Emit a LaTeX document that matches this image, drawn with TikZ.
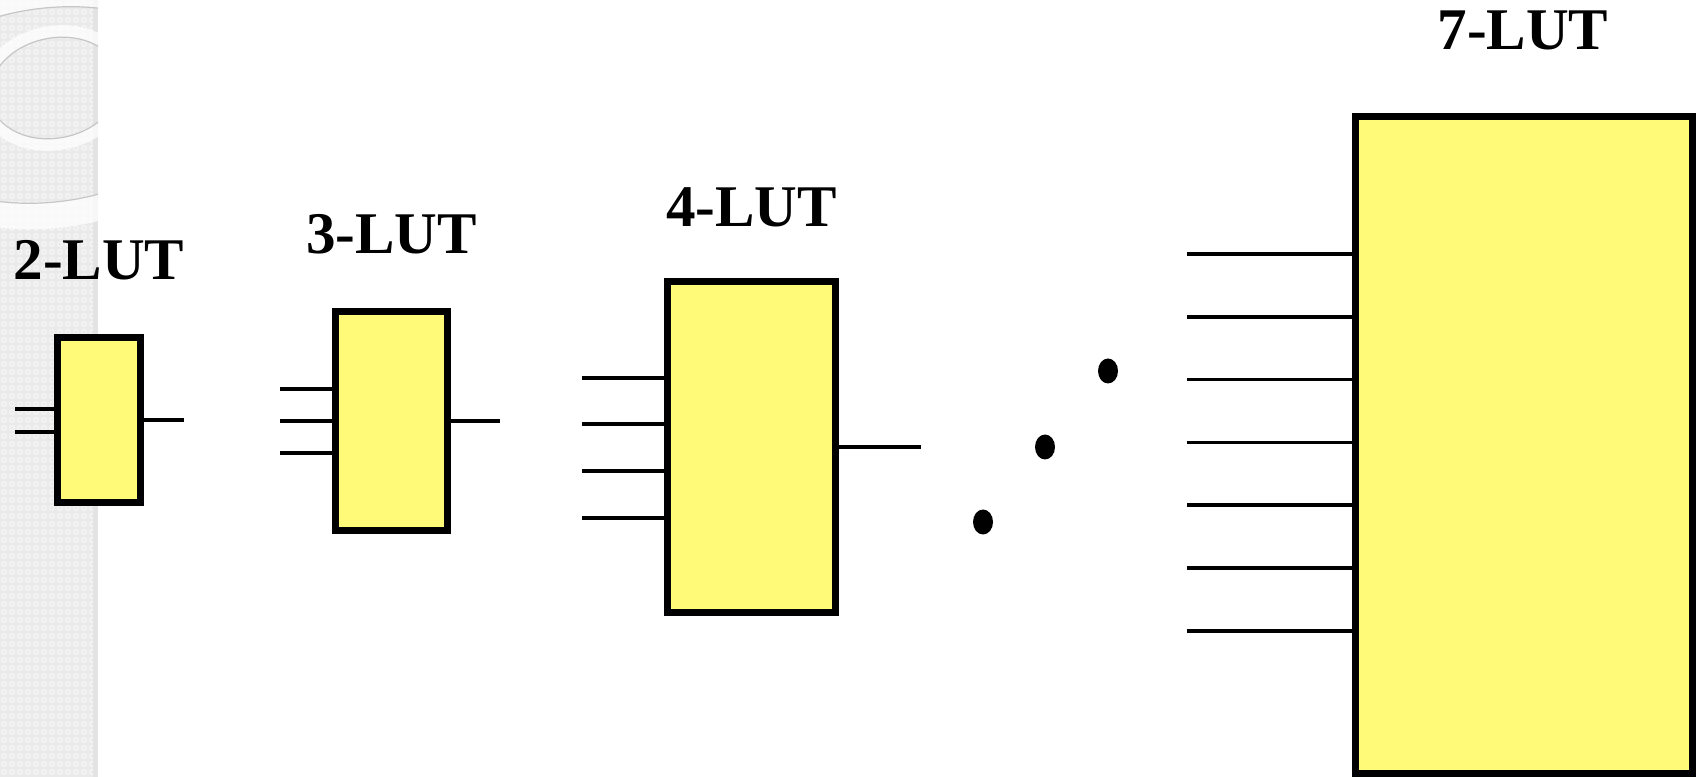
\documentclass[tikz,border=0pt]{standalone}
\usepackage{fontspec}
\setmainfont{Liberation Serif}

\definecolor{lutyellow}{HTML}{FFFA78}
\definecolor{stripgray}{HTML}{EAEAEA}

\tikzset{
    lut/.style={draw, line width=0.07cm, fill=lutyellow, inner sep=0pt},
    wire/.style={line width=0.035cm},
    lutname/.style={anchor=base, inner sep=0pt, font=\fontsize{16.8}{20}\selectfont\bfseries},
    ringband/.style={white, opacity=0.75},
    ringedge/.style={gray!45, line width=0.012cm},
}

\begin{document}
\begin{tikzpicture}[x=0.01cm, y=-0.01cm]

    \useasboundingbox (0,0) rectangle (1698,777);

    % textured strip on the left with two rings
    \begin{scope}
        \clip (0,0) rectangle (98,777);
        \fill[stripgray] (0,0) rectangle (98,777);
        \foreach \i in {0,...,12}
            \foreach \j in {0,...,97}
                \draw[white!55!stripgray, line width=0.012cm] (\i*8+4, \j*8+4) circle [radius=2.3];
        \fill[gray!22] (93,0) rectangle (98,777);

        \draw[ringband, line width=0.26cm, rotate around={7:(50,105)}] (50,105) ellipse [x radius=175, y radius=110];
        \draw[ringedge, rotate around={7:(50,105)}] (50,105) ellipse [x radius=162, y radius=97];
        \draw[ringband, line width=0.12cm, rotate around={12:(55,88)}] (55,88) ellipse [x radius=72, y radius=56];
        \draw[ringedge, rotate around={12:(55,88)}] (55,88) ellipse [x radius=66, y radius=50];
    \end{scope}

    % the four blocks
    \node[lut, minimum width=0.83cm, minimum height=1.65cm] (lut2) at (99,420) {};
    \node[lut, minimum width=1.12cm, minimum height=2.19cm] (lut3) at (391.5,421) {};
    \node[lut, minimum width=1.68cm, minimum height=3.31cm] (lut4) at (751.5,447) {};
    \node[lut, minimum width=3.37cm, minimum height=6.57cm] (lut7) at (1524,445) {};

    \node[lutname] (name2) at (99,280) {2-LUT};
    \node[lutname] (name3) at (391.5,254) {3-LUT};
    \node[lutname] (name4) at (751.5,227) {4-LUT};
    \node[lutname] (name7) at (1523,50) {7-LUT};

    % inputs
    \foreach \y in {409,432}
        \draw[wire] (15,\y) -- (lut2.west |- 0,\y);
    \foreach \y in {389,421,453}
        \draw[wire] (280,\y) -- (lut3.west |- 0,\y);
    \foreach \y in {378,424,471,518}
        \draw[wire] (582,\y) -- (lut4.west |- 0,\y);
    \foreach \k in {0,...,6}
        \draw[wire] (1187,254+\k*62.8) -- (lut7.west |- 0,254+\k*62.8);

    % outputs
    \draw[wire] (lut2.east) -- (184,420);
    \draw[wire] (lut3.east) -- (500,421);
    \draw[wire] (lut4.east) -- (921,447);

    % dots
    \fill (983,522) ellipse [x radius=10, y radius=12.5];
    \fill (1045,447) ellipse [x radius=10, y radius=12.5];
    \fill (1108,371) ellipse [x radius=10, y radius=12.5];

\end{tikzpicture}
\end{document}
